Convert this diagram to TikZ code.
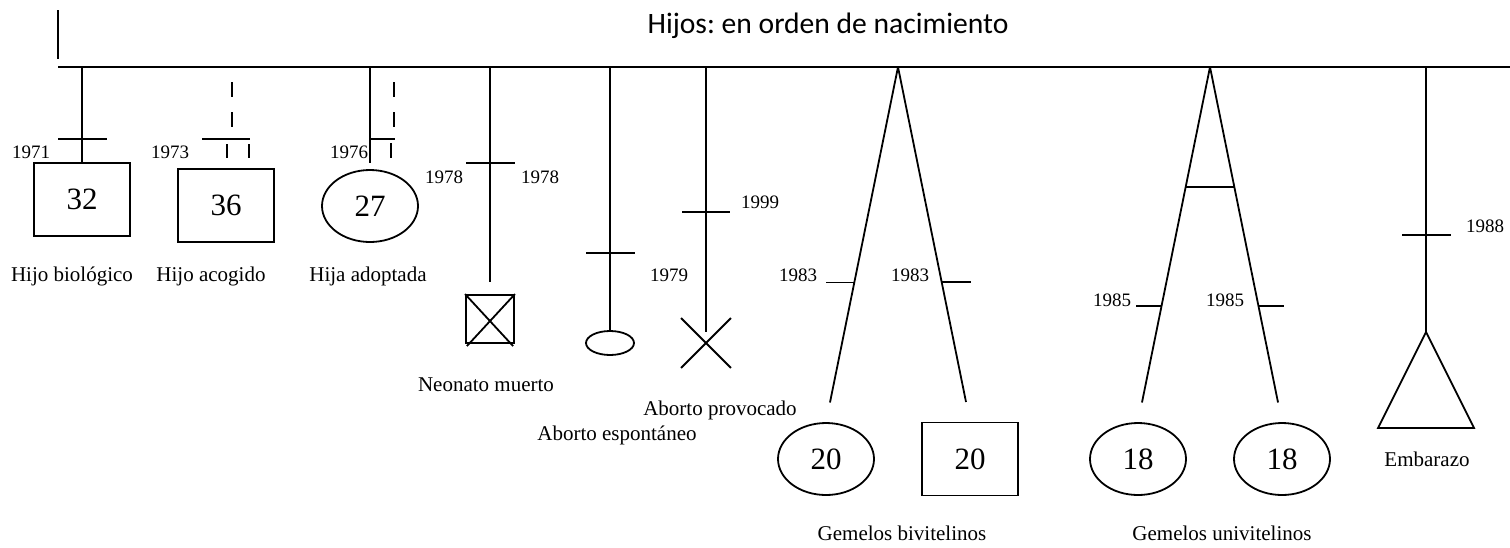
\documentclass[tikz,border=0pt]{standalone}
\usepackage{fontspec}
\setmainfont{Liberation Serif}
\newfontfamily\titlefont{Carlito}
\usetikzlibrary{shapes.geometric,shapes.misc,calc}
\frenchspacing

\begin{document}
\begin{tikzpicture}[x=0.5pt,y=-0.5pt,line width=0.9pt,
    boxnode/.style={draw,minimum width=48pt,minimum height=36.5pt,inner sep=0pt,font=\fontsize{15.5}{18}\selectfont},
    ovalnode/.style={draw,ellipse,minimum width=48pt,minimum height=36pt,inner sep=0pt,font=\fontsize{15.5}{18}\selectfont},
    year/.style={inner sep=0pt,font=\fontsize{9.5}{11}\selectfont},
    caption/.style={inner sep=0pt,font=\fontsize{10.5}{12}\selectfont},
    gap/.style={dash pattern=on 7.5pt off 7.5pt}]
        \useasboundingbox (0,0) rectangle (1510,547);

        % Sibship line
        \coordinate (top) at (58,10);
        \coordinate (topend) at (58,59);
        \coordinate (left) at (58,67);
        \coordinate (right) at (1510,67);
        \draw (top) -- (topend);
        \draw (left) -- (right);
        \node[font={\titlefont\fontsize{14.8}{17}\selectfont}] (title) at (828,26) {Hijos: en orden de nacimiento};

        % Hijo biologico
        \coordinate (s1) at (82,67);
        \node[boxnode] (c1) at (82,199.5) {32};
        \draw (s1) -- (c1.north);
        \draw (58,139) -- (107,139);
        \node[year] (y1) at (31,152) {1971};
        \node[caption] (l1) at (72,276) {Hijo biológico};

        % Hijo acogido
        \node[boxnode] (c2) at (226,205.5) {36};
        \draw[gap] (232,82) -- (232,128);
        \draw (202,139) -- (250,139);
        \draw (227,144) -- (227,158);
        \draw (249,144) -- (249,158);
        \node[year] (y2) at (170,152) {1973};
        \node[caption] (l2) at (211,276) {Hijo acogido};

        % Hija adoptada
        \coordinate (s3) at (370,67);
        \node[ovalnode] (c3) at (370,206) {27};
        \draw[shorten >=3pt] (s3) -- (c3.north);
        \draw[gap] (394,82) -- (394,128);
        \draw (370,139) -- (395,139);
        \draw (391,143) -- (391,158);
        \node[year] (y3) at (349,152) {1976};
        \node[caption] (l3) at (368,276) {Hija adoptada};

        % Neonato muerto
        \coordinate (s4) at (490,67);
        \node[draw,minimum size=24pt,inner sep=0pt] (c4) at (490,319) {};
        \draw[shorten >=6pt] (s4) -- (c4.north);
        \draw (c4.north west) -- ++(48,52);
        \draw (c4.north east) -- ++(-48,52);
        \draw (466,163) -- (515,163);
        \node[year] (y4a) at (444,177) {1978};
        \node[year] (y4b) at (540,177) {1978};
        \node[caption] (l4) at (486,385) {Neonato muerto};

        % Aborto espontaneo
        \coordinate (s5) at (610,67);
        \node[draw,ellipse,minimum width=24pt,minimum height=12pt,inner sep=0pt] (c5) at (610,343) {};
        \draw (s5) -- (c5.north);
        \draw (586,253) -- (635,253);
        \node[year] (y5) at (669,275) {1979};
        \node[caption] (l5) at (617,435) {Aborto espontáneo};

        % Aborto provocado
        \coordinate (s6) at (706,67);
        \node[draw,cross out,minimum size=24pt,inner sep=0pt] (c6) at (706,343) {};
        \draw[shorten >=5.5pt] (s6) -- (c6.center);
        \draw (682,212) -- (730,212);
        \node[year] (y6) at (760,202) {1999};
        \node[caption] (l6) at (720,410) {Aborto provocado};

        % Gemelos bivitelinos
        \coordinate (s7) at (898,67);
        \node[ovalnode] (c7a) at (826,459) {20};
        \node[boxnode] (c7b) at (970,459) {20};
        \draw[shorten >=10pt] (s7) -- (c7a.north);
        \draw[shorten >=10pt] (s7) -- (c7b.north);
        \draw ($(s7)!0.607!(c7a.north)$) -- ++(-28,0);
        \draw ($(s7)!0.607!(c7b.north)$) -- ++(29,0);
        \node[year] (y7a) at (798,275) {1983};
        \node[year] (y7b) at (910,275) {1983};
        \node[caption] (l7) at (902,533) {Gemelos bivitelinos};

        % Gemelos univitelinos
        \coordinate (s8) at (1210,67);
        \node[ovalnode] (c8a) at (1138,459) {18};
        \node[ovalnode] (c8b) at (1282,459) {18};
        \draw[shorten >=10pt] (s8) -- (c8a.north);
        \draw[shorten >=10pt] (s8) -- (c8b.north);
        \draw ($(s8)!0.337!(c8a.north)$) -- ($(s8)!0.337!(c8b.north)$);
        \draw ($(s8)!0.674!(c8a.north)$) -- ++(-25,0);
        \draw ($(s8)!0.674!(c8b.north)$) -- ++(25,0);
        \node[year] (y8a) at (1112,300) {1985};
        \node[year] (y8b) at (1225,300) {1985};
        \node[caption] (l8) at (1222,533) {Gemelos univitelinos};

        % Embarazo
        \coordinate (s9) at (1426,67);
        \draw (1426,332) coordinate (c9) -- (1474,428) -- (1378,428) -- cycle;
        \draw (s9) -- (c9);
        \draw (1402,235) -- (1451,235);
        \node[year] (y9) at (1485,226) {1988};
        \node[caption] (l9) at (1427,459) {Embarazo};
    \end{tikzpicture}
\end{document}
